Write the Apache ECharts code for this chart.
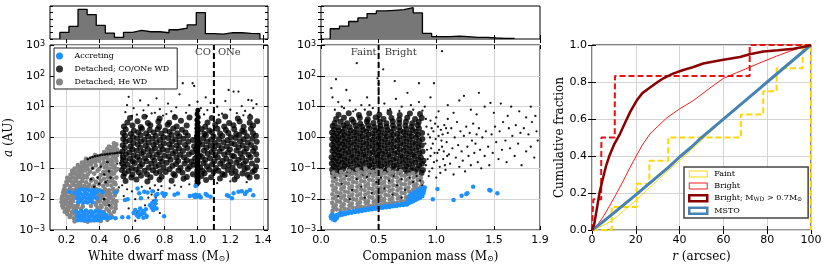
<!DOCTYPE html>
<html><head><meta charset="utf-8">
<script src="https://cdn.jsdelivr.net/npm/echarts@6/dist/echarts.min.js"></script>
<style>html,body{margin:0;padding:0;background:#fff}#c{width:831px;height:268px}</style>
</head><body><div id="c"></div>
<script>
// ---------------- DATA ----------------
const wdTicks = [0.2,0.4,0.6,0.8,1.0,1.2,1.4];

// histograms (relative heights, top panels)
const wdHistStart = 0.16, wdHistWidth = 0.0555;
const wdHistHeights = [0.20,0.38,0.90,0.74,0.41,0.18,0.05,0.20,0.26,0.22,0.22,0.19,0.28,0.33,0.43,0.80,0.16,0.15,0.19,0.19,0.17,0.16];
const compHistStart = 0.08, compHistWidth = 0.08;
const compHistHeights = [0.31,0.39,0.53,0.64,0.77,0.85,0.87,0.89,0.95,0.79,0.17,0.07,0.07,0.09,0.07,0.05,0.05,0.03,0.02,0.02];

// boundaries
const coOneBoundary = 1.1;
const faintBrightBoundary = 0.5;

// Panel 1: [white dwarf mass, log10 a]
const wdCOdense = [
[.561,-1.41],[.627,-1.36],[.694,-1.43],[.768,-1.37],[.842,-1.40],[.915,-1.34],[1.052,-1.38],[1.137,-1.33],[1.226,-1.36],[1.318,-1.30],
[.548,-1.26],[.596,-1.30],[.655,-1.24],[.713,-1.29],[.781,-1.27],[.862,-1.23],[.935,-1.28],[1.024,-1.25],[1.083,-1.29],[1.166,-1.22],[1.241,-1.26],[1.305,-1.21],[1.362,-1.27],
[.556,-1.16],[.603,-1.20],[.641,-1.13],[.692,-1.19],[.747,-1.15],[.806,-1.12],[.853,-1.18],[.908,-1.14],[.972,-1.19],[1.043,-1.16],[1.098,-1.12],[1.152,-1.18],[1.209,-1.15],[1.274,-1.17],[1.336,-1.12],
[.538,-1.05],[.579,-1.09],[.624,-1.04],[.676,-1.08],[.727,-1.06],[.771,-1.10],[.829,-1.03],[.884,-1.07],[.941,-1.02],[1.032,-1.09],[1.071,-1.04],[1.127,-1.08],[1.184,-1.05],[1.232,-1.10],[1.287,-1.03],[1.349,-1.06],
[.551,-0.95],[.598,-0.99],[.649,-0.93],[.701,-0.98],[.744,-0.94],[.793,-0.97],[.847,-0.92],[.896,-0.98],[.953,-0.94],[1.016,-0.97],[1.058,-0.93],[1.112,-0.99],[1.161,-0.94],[1.214,-0.97],[1.258,-0.92],[1.305,-0.98],[1.357,-0.95],
[.541,-0.85],[.573,-0.88],[.617,-0.83],[.662,-0.87],[.718,-0.84],[.764,-0.89],[.812,-0.82],[.869,-0.86],[.921,-0.84],[.976,-0.88],[1.037,-0.83],[1.089,-0.87],[1.138,-0.85],[1.189,-0.89],[1.236,-0.82],[1.281,-0.86],[1.332,-0.84],
[.559,-0.74],[.604,-0.78],[.646,-0.73],[.689,-0.77],[.737,-0.75],[.785,-0.79],[.836,-0.72],[.882,-0.76],[.934,-0.74],[.963,-0.78],[1.048,-0.73],[1.103,-0.77],[1.153,-0.75],[1.201,-0.79],[1.249,-0.72],[1.296,-0.76],[1.364,-0.74],
[.546,-0.65],[.588,-0.69],[.633,-0.63],[.679,-0.67],[.726,-0.64],[.772,-0.68],[.824,-0.62],[.871,-0.66],[.917,-0.64],[.985,-0.68],[1.027,-0.63],[1.076,-0.67],[1.124,-0.65],[1.176,-0.69],[1.223,-0.62],[1.272,-0.66],[1.323,-0.64],
[.563,-0.54],[.611,-0.58],[.658,-0.53],[.704,-0.57],[.752,-0.55],[.798,-0.59],[.849,-0.52],[.893,-0.56],[.947,-0.54],[1.013,-0.58],[1.062,-0.53],[1.109,-0.57],[1.163,-0.55],[1.212,-0.59],[1.262,-0.52],[1.311,-0.56],[1.358,-0.54],
[.542,-0.45],[.584,-0.49],[.629,-0.43],[.671,-0.47],[.721,-0.44],[.768,-0.48],[.817,-0.42],[.864,-0.46],[.911,-0.44],[.968,-0.48],[1.039,-0.43],[1.086,-0.47],[1.135,-0.45],[1.186,-0.49],[1.238,-0.42],[1.286,-0.46],[1.339,-0.44],
[.557,-0.34],[.602,-0.38],[.651,-0.33],[.697,-0.37],[.741,-0.35],[.789,-0.39],[.841,-0.32],[.887,-0.36],[.938,-0.34],[.991,-0.38],[1.054,-0.33],[1.101,-0.37],[1.149,-0.35],[1.198,-0.39],[1.251,-0.32],[1.299,-0.36],[1.351,-0.34],
[.544,-0.25],[.591,-0.29],[.636,-0.23],[.683,-0.27],[.731,-0.24],[.776,-0.28],[.827,-0.22],[.873,-0.26],[.924,-0.24],[.979,-0.28],[1.029,-0.23],[1.079,-0.27],[1.127,-0.25],[1.179,-0.29],[1.227,-0.22],[1.276,-0.26],[1.327,-0.24],
[.561,-0.14],[.608,-0.18],[.655,-0.13],[.702,-0.17],[.749,-0.15],[.795,-0.19],[.845,-0.12],[.891,-0.16],[.944,-0.14],[1.009,-0.18],[1.058,-0.13],[1.106,-0.17],[1.158,-0.15],[1.207,-0.19],[1.259,-0.12],[1.307,-0.16],[1.361,-0.14],
[.547,-0.05],[.587,-0.09],[.631,-0.03],[.676,-0.07],[.724,-0.04],[.771,-0.08],[.821,-0.02],[.866,-0.06],[.914,-0.04],[.972,-0.08],[1.034,-0.03],[1.083,-0.07],[1.131,-0.05],[1.183,-0.09],[1.232,-0.02],[1.281,-0.06],[1.334,-0.04],
[.558,0.06],[.606,0.02],[.653,0.07],[.699,0.03],[.746,0.05],[.792,0.01],[.842,0.08],[.889,0.04],[.941,0.06],[.996,0.02],[1.051,0.07],[1.098,0.03],[1.151,0.05],[1.203,0.01],[1.254,0.08],[1.302,0.04],[1.356,0.06],
[.545,0.15],[.593,0.11],[.638,0.17],[.686,0.13],[.733,0.16],[.779,0.12],[.829,0.18],[.876,0.14],[.927,0.16],[1.041,0.12],[1.088,0.17],[1.137,0.13],[1.188,0.15],[1.236,0.11],[1.286,0.18],[1.338,0.14],
[.562,0.26],[.611,0.22],[.661,0.28],[.708,0.24],[.757,0.27],[.803,0.23],[.852,0.29],[.905,0.25],[1.024,0.27],[1.072,0.23],[1.121,0.28],[1.173,0.24],[1.224,0.27],[1.273,0.22],[1.326,0.28],
[.551,0.36],[.603,0.39],[.654,0.34],[.712,0.40],[.766,0.35],[.818,0.41],[.873,0.36],[.934,0.39],[1.047,0.35],[1.108,0.41],[1.163,0.36],[1.219,0.40],[1.281,0.35],[1.339,0.39],
[.572,0.49],[.634,0.53],[.697,0.47],[.761,0.52],[.827,0.48],[.899,0.54],[1.061,0.49],[1.128,0.53],[1.193,0.47],[1.257,0.52],[1.318,0.48],[1.364,0.53],
[.588,0.63],[.676,0.67],[.769,0.62],[.862,0.66],[.951,0.65],[1.087,0.63],[1.169,0.68],[1.246,0.62],[1.321,0.66]
];
const wdCOstripe = [
[.996,-1.52],[1.004,-1.46],[.997,-1.41],[1.003,-1.35],[.996,-1.29],[1.004,-1.24],[.997,-1.18],[1.003,-1.12],[.996,-1.07],[1.004,-1.01],
[.997,-0.95],[1.003,-0.90],[.996,-0.84],[1.004,-0.78],[.997,-0.73],[1.003,-0.67],[.996,-0.61],[1.004,-0.56],[.997,-0.50],[1.003,-0.44],
[.996,-0.39],[1.004,-0.33],[.997,-0.27],[1.003,-0.22],[.996,-0.16],[1.004,-0.10],[.997,-0.05],[1.003,0.01],[.996,0.07],[1.004,0.12],
[.997,0.18],[1.003,0.24],[.996,0.30],[1.004,0.36],[.997,0.42],[1.003,0.49],[.996,0.57],[1.004,0.66],[.997,0.76],[1.002,0.88]
];
const wdCOsparse = [
[.56,0.82],[.58,1.32],[.61,0.95],[.63,0.74],[.65,1.2],[.67,0.88],[.70,1.05],[.72,0.78],[.75,1.27],[.77,0.92],[.79,0.71],[.82,1.1],[.84,0.85],[.87,0.98],[.89,1.4],
[.91,1.76],[.93,0.8],[.95,1.05],[.97,1.76],[.98,1.67],[1.0,1.16],[1.02,0.95],[1.04,0.75],[1.06,0.89],[1.08,1.12],[1.10,0.82],[1.12,1.0],[1.15,0.77],[1.17,1.18],
[1.19,1.54],[1.20,0.9],[1.22,1.49],[1.24,0.79],[1.25,1.49],[1.27,1.02],[1.29,0.86],[1.31,1.22],[1.32,0.74],[1.34,0.95],[1.36,1.08],[.60,0.7],[.74,0.8],[.86,0.72],
[1.13,0.73],[1.28,0.72],[.57,1.05],[.69,0.69],[.81,0.76],[1.05,1.3],[1.33,1.2],
[.50,-1.45],[.52,-1.62],[.54,-1.55],[.55,-1.9],[.57,-1.68],[.58,-2.3],[.60,-1.75],[.62,-2.0],[.63,-2.45],[.65,-1.82],[.66,-1.6],[.68,-2.2],[.70,-1.95],[.71,-1.65],
[.72,-1.85],[.73,-2.05],[.735,-1.75],[.74,-1.55],[.745,-1.95],[.75,-2.15],[.76,-1.7],[.78,-1.58],[.80,-1.9],[.83,-1.65],[.86,-1.55],[.9,-1.6],[.95,-1.52],[.58,-2.6],
[.62,-2.7],[.48,-1.2],[.5,-1.0],[.51,-0.85],[.49,-1.65],[.45,-1.4],[.47,-1.85],[.44,-1.1],[1.12,-1.48],[1.2,-1.42],[1.3,-1.45],[.77,-2.45],[.69,-2.6]
];
const wdCOridge = [
[.33,-0.70],[.345,-0.66],[.36,-0.63],[.375,-0.61],[.39,-0.59],[.405,-0.575],[.42,-0.56],[.435,-0.55],[.45,-0.54],[.465,-0.53],[.48,-0.52],[.495,-0.51],[.51,-0.5],
[.525,-0.49],[.535,-0.5],[.535,-0.58],[.537,-0.66],[.535,-0.74],[.53,-0.82],
[.36,-1.0],[.39,-1.3],[.41,-0.95],[.43,-1.2],[.45,-0.8],[.37,-1.6],[.40,-1.5],[.42,-1.75],[.44,-1.45],[.46,-1.1],[.47,-1.3],[.35,-1.35],[.43,-2.0],[.46,-2.2]
];
const wdHe = [
[.25,-2.72],[.29,-2.68],[.33,-2.73],[.37,-2.69],[.41,-2.71],[.45,-2.67],
[.22,-2.58],[.245,-2.62],[.27,-2.57],[.30,-2.63],[.34,-2.59],[.38,-2.61],[.42,-2.56],[.455,-2.62],[.48,-2.58],
[.205,-2.48],[.225,-2.52],[.25,-2.47],[.28,-2.53],[.31,-2.49],[.355,-2.51],[.40,-2.47],[.44,-2.52],[.47,-2.49],
[.19,-2.41],[.21,-2.37],[.235,-2.42],[.26,-2.38],[.29,-2.31],[.40,-2.36],[.43,-2.42],[.46,-2.38],[.49,-2.41],
[.18,-2.28],[.20,-2.32],[.22,-2.27],[.245,-2.31],[.265,-2.26],[.39,-2.29],[.415,-2.25],[.445,-2.31],[.475,-2.27],[.50,-2.3],
[.175,-2.21],[.19,-2.17],[.21,-2.22],[.23,-2.18],[.25,-2.23],[.27,-2.19],[.30,-2.24],[.35,-2.22],[.38,-2.18],[.41,-2.21],[.44,-2.17],[.47,-2.22],[.50,-2.19],
[.17,-2.09],[.185,-2.13],[.20,-2.08],[.22,-2.12],[.24,-2.07],[.385,-2.11],[.405,-2.06],[.43,-2.12],[.455,-2.08],[.48,-2.11],[.505,-2.07],
[.172,-1.98],[.188,-2.02],[.205,-1.97],[.225,-2.01],[.245,-1.96],[.39,-2.0],[.41,-1.96],[.435,-2.02],[.46,-1.98],[.485,-2.01],
[.175,-1.91],[.19,-1.87],[.21,-1.92],[.23,-1.88],[.25,-1.93],[.395,-1.89],[.42,-1.92],[.445,-1.87],[.47,-1.91],[.495,-1.88],
[.18,-1.78],[.195,-1.82],[.215,-1.77],[.235,-1.81],[.255,-1.76],[.39,-1.8],[.415,-1.83],[.44,-1.78],[.465,-1.81],[.49,-1.77],
[.185,-1.69],[.20,-1.72],[.22,-1.67],[.24,-1.71],[.26,-1.66],[.28,-1.62],[.30,-1.63],[.33,-1.61],[.36,-1.62],[.385,-1.68],[.41,-1.72],[.435,-1.67],[.46,-1.71],[.485,-1.68],[.51,-1.72],
[.19,-1.57],[.205,-1.53],[.225,-1.58],[.245,-1.54],[.265,-1.56],[.285,-1.52],[.31,-1.57],[.34,-1.53],[.37,-1.56],[.40,-1.52],[.425,-1.57],[.45,-1.53],[.475,-1.56],[.50,-1.52],
[.20,-1.44],[.215,-1.4],[.235,-1.45],[.255,-1.41],[.275,-1.46],[.295,-1.42],[.32,-1.45],[.35,-1.4],[.38,-1.44],[.41,-1.41],[.44,-1.46],[.465,-1.42],[.49,-1.45],
[.205,-1.31],[.22,-1.35],[.24,-1.3],[.26,-1.34],[.28,-1.29],[.30,-1.33],[.325,-1.3],[.36,-1.35],[.40,-1.31],[.43,-1.34],[.455,-1.29],[.48,-1.33],[.505,-1.3],
[.225,-1.21],[.245,-1.17],[.265,-1.22],[.285,-1.18],[.305,-1.23],[.33,-1.19],[.37,-1.17],[.41,-1.22],[.44,-1.18],[.465,-1.21],[.49,-1.17],
[.235,-1.09],[.255,-1.13],[.275,-1.08],[.295,-1.12],[.315,-1.07],[.345,-1.11],[.39,-1.08],[.425,-1.12],[.45,-1.07],[.475,-1.11],[.50,-1.08],
[.25,-1.01],[.27,-0.97],[.29,-1.02],[.31,-0.98],[.33,-1.03],[.36,-0.99],[.40,-1.02],[.435,-0.97],[.46,-1.01],[.485,-0.98],[.51,-1.02],
[.27,-0.89],[.29,-0.93],[.31,-0.88],[.33,-0.92],[.35,-0.87],[.38,-0.91],[.415,-0.88],[.445,-0.92],[.47,-0.87],[.495,-0.91],
[.295,-0.81],[.315,-0.77],[.335,-0.82],[.355,-0.78],[.375,-0.8],[.40,-0.76],[.43,-0.81],[.455,-0.77],[.48,-0.8],[.505,-0.76],
[.32,-0.69],[.34,-0.72],[.36,-0.67],[.38,-0.71],[.40,-0.66],[.425,-0.7],[.45,-0.67],[.475,-0.71],[.50,-0.68],
[.375,-0.57],[.395,-0.62],[.415,-0.58],[.435,-0.6],[.46,-0.56],[.485,-0.61],[.51,-0.57],
[.43,-0.47],[.45,-0.51],[.47,-0.46],[.495,-0.5],[.515,-0.47],
[.45,-0.37],[.47,-0.42],[.49,-0.38],[.51,-0.4],
[.46,-0.29],[.48,-0.32],[.50,-0.27],[.49,-0.19],[.505,-0.22]
];
const wdAccreting = [
[.265,-1.75],[.28,-1.7],[.295,-1.68],[.31,-1.72],[.325,-1.69],[.34,-1.71],[.355,-1.74],[.37,-1.7],[.27,-1.85],[.285,-1.82],[.30,-1.86],[.315,-1.81],[.33,-1.84],
[.345,-1.87],[.36,-1.83],[.375,-1.8],[.265,-1.97],[.28,-1.95],[.295,-1.99],[.31,-1.94],[.325,-1.98],[.34,-1.95],[.355,-1.99],[.37,-1.93],[.27,-2.1],[.285,-2.07],
[.30,-2.12],[.315,-2.08],[.33,-2.11],[.345,-2.06],[.36,-2.1],[.385,-1.76],[.25,-1.8],[.22,-1.76],[.40,-1.72],[.42,-1.78],[.385,-1.96],
[.26,-2.4],[.275,-2.45],[.29,-2.38],[.305,-2.43],[.32,-2.37],[.335,-2.42],[.35,-2.39],[.365,-2.44],[.38,-2.38],[.395,-2.42],[.41,-2.4],[.425,-2.46],
[.265,-2.55],[.28,-2.6],[.295,-2.53],[.31,-2.58],[.325,-2.52],[.34,-2.57],[.355,-2.54],[.37,-2.59],[.385,-2.53],[.40,-2.57],[.415,-2.55],[.43,-2.6],[.445,-2.52],
[.27,-2.68],[.29,-2.66],[.31,-2.7],[.33,-2.67],[.35,-2.69],[.37,-2.65],[.39,-2.68],[.41,-2.66],[.45,-2.62],[.47,-2.6],[.5,-2.62],
[.503,-1.78],[.558,-2.03],[.541,-2.59],[.578,-2.59],[.634,-1.65],[.644,-1.81],[.655,-1.97],[.675,-1.76],[.725,-1.74],[.745,-1.87],[.786,-1.81],[.806,-1.83],
[.574,-2.0],[.695,-1.78],[.756,-1.83],[.796,-1.89],
[.61,-2.45],[.62,-2.35],[.63,-2.52],[.64,-2.42],[.65,-2.3],[.655,-2.5],[.665,-2.38],[.675,-2.46],[.685,-2.33],[.69,-2.55],[.64,-2.58],[.67,-2.6],
[.71,-2.2],[.72,-2.28],[.725,-2.12],[.735,-2.25],[.74,-2.15],[.75,-2.3],[.745,-2.05],[.73,-2.35],[.796,-2.55],
[.953,-1.9],[.975,-1.88],[.985,-1.93],[.99,-1.86],[1.0,-1.91],[1.01,-1.87],[1.02,-1.94],[.988,-1.57],[1.05,-1.83],[1.08,-1.92],[1.18,-1.87],[1.21,-1.97],
[1.22,-1.81],[1.25,-1.76],[1.27,-1.74],[1.29,-1.83],[1.32,-1.7],[1.34,-1.87],[1.06,-1.88],[1.19,-1.9],[1.3,-1.76],[.88,-1.82],[.86,-1.86]
];

// Panel 2: [companion mass, log10 a]
const compCOdense = [
[.105,-1.16],[.168,-1.12],[.234,-1.18],[.297,-1.13],[.362,-1.17],[.428,-1.11],[.489,-1.16],[.553,-1.12],[.618,-1.18],[.682,-1.13],[.747,-1.16],[.815,-1.11],[.872,-1.15],
[.097,-1.04],[.141,-1.08],[.192,-1.02],[.247,-1.07],[.301,-1.03],[.352,-1.06],[.408,-1.01],[.457,-1.07],[.512,-1.03],[.566,-1.06],[.623,-1.02],[.674,-1.08],[.729,-1.03],[.781,-1.06],[.839,-1.01],[.884,-1.05],
[.112,-0.94],[.158,-0.98],[.207,-0.92],[.259,-0.97],[.313,-0.93],[.366,-0.96],[.419,-0.91],[.471,-0.97],[.524,-0.93],[.578,-0.96],[.632,-0.92],[.687,-0.98],[.741,-0.93],[.794,-0.96],[.851,-0.91],
[.094,-0.84],[.137,-0.88],[.183,-0.82],[.231,-0.87],[.284,-0.83],[.337,-0.86],[.389,-0.81],[.442,-0.87],[.496,-0.83],[.549,-0.86],[.603,-0.82],[.657,-0.88],[.711,-0.83],[.763,-0.86],[.818,-0.81],[.876,-0.85],
[.108,-0.74],[.154,-0.78],[.203,-0.72],[.255,-0.77],[.307,-0.73],[.361,-0.76],[.414,-0.71],[.466,-0.77],[.519,-0.73],[.573,-0.76],[.627,-0.72],[.681,-0.78],[.735,-0.73],[.789,-0.76],[.843,-0.71],[.889,-0.75],
[.092,-0.64],[.133,-0.68],[.179,-0.62],[.228,-0.67],[.279,-0.63],[.331,-0.66],[.384,-0.61],[.437,-0.67],[.491,-0.63],[.544,-0.66],[.598,-0.62],[.652,-0.68],[.706,-0.63],[.758,-0.66],[.812,-0.61],[.866,-0.65],
[.116,-0.54],[.161,-0.58],[.211,-0.52],[.262,-0.57],[.316,-0.53],[.369,-0.56],[.422,-0.51],[.476,-0.57],[.529,-0.53],[.583,-0.56],[.637,-0.52],[.691,-0.58],[.745,-0.53],[.798,-0.56],[.853,-0.51],
[.099,-0.44],[.143,-0.48],[.189,-0.42],[.238,-0.47],[.291,-0.43],[.343,-0.46],[.396,-0.41],[.449,-0.47],[.503,-0.43],[.556,-0.46],[.611,-0.42],[.664,-0.48],[.718,-0.43],[.771,-0.46],[.826,-0.41],[.881,-0.45],
[.111,-0.34],[.156,-0.38],[.205,-0.32],[.256,-0.37],[.309,-0.33],[.363,-0.36],[.416,-0.31],[.469,-0.37],[.522,-0.33],[.576,-0.36],[.629,-0.32],[.684,-0.38],[.738,-0.33],[.791,-0.36],[.846,-0.31],
[.095,-0.24],[.138,-0.28],[.185,-0.22],[.234,-0.27],[.286,-0.23],[.339,-0.26],[.392,-0.21],[.446,-0.27],[.499,-0.23],[.552,-0.26],[.606,-0.22],[.661,-0.28],[.714,-0.23],[.767,-0.26],[.821,-0.21],[.874,-0.25],
[.114,-0.14],[.159,-0.18],[.208,-0.12],[.259,-0.17],[.312,-0.13],[.366,-0.16],[.419,-0.11],[.472,-0.17],[.526,-0.13],[.579,-0.16],[.633,-0.12],[.688,-0.18],[.742,-0.13],[.796,-0.16],[.851,-0.11],
[.098,-0.04],[.141,-0.08],[.188,-0.02],[.236,-0.07],[.289,-0.03],[.341,-0.06],[.394,-0.01],[.448,-0.07],[.501,-0.03],[.555,-0.06],[.609,-0.02],[.663,-0.08],[.717,-0.03],[.769,-0.06],[.824,-0.01],[.879,-0.05],
[.109,0.06],[.153,0.02],[.202,0.08],[.253,0.03],[.306,0.07],[.359,0.04],[.412,0.09],[.465,0.03],[.518,0.07],[.572,0.04],[.626,0.08],[.679,0.02],[.733,0.07],[.786,0.04],[.841,0.09],
[.096,0.16],[.139,0.12],[.186,0.18],[.235,0.13],[.287,0.17],[.34,0.14],[.393,0.19],[.447,0.13],[.5,0.17],[.554,0.14],[.607,0.18],[.662,0.12],[.716,0.17],[.768,0.14],[.823,0.19],[.877,0.15],
[.113,0.26],[.158,0.22],[.207,0.28],[.258,0.23],[.311,0.27],[.365,0.24],[.418,0.29],[.471,0.23],[.525,0.27],[.578,0.24],[.632,0.28],[.687,0.22],[.741,0.27],[.795,0.24],[.85,0.29],
[.101,0.37],[.148,0.33],[.197,0.39],[.249,0.34],[.302,0.38],[.356,0.35],[.409,0.4],[.463,0.34],[.516,0.38],[.57,0.35],[.624,0.39],[.678,0.33],[.732,0.38],[.785,0.35],[.839,0.4],
[.118,0.47],[.171,0.51],[.226,0.46],[.283,0.5],[.341,0.45],[.398,0.52],[.455,0.47],[.511,0.5],[.567,0.46],[.623,0.52],[.679,0.47],[.737,0.51],[.792,0.46],[.848,0.5],
[.131,0.6],[.199,0.64],[.268,0.58],[.337,0.63],[.406,0.59],[.474,0.65],[.542,0.6],[.611,0.63],[.679,0.58],[.748,0.64],[.816,0.6],[.874,0.63],
[.152,0.74],[.241,0.79],[.329,0.73],[.418,0.78],[.506,0.74],[.594,0.8],[.683,0.73],[.771,0.78],[.859,0.76]
];
const compCOsparse = [
[.91,-0.9],[.92,-0.4],[.93,0.1],[.94,-1.1],[.95,-0.6],[.96,0.3],[.97,-0.2],[.98,-0.8],[.99,0.45],[1.0,-1.3],[1.01,-0.5],[1.02,0.05],[1.03,-0.95],[1.04,0.25],
[1.05,-0.3],[1.06,-0.7],[1.07,0.4],[1.08,-1.05],[1.09,-0.15],[1.1,0.15],[1.11,-0.55],[1.12,-0.85],[1.13,0.3],[1.14,-0.35],[1.15,-1.2],[1.16,0.0],[1.17,-0.65],
[1.18,0.5],[1.19,-0.25],[1.2,-0.95],[1.21,0.2],[1.22,-0.45],[1.23,-0.75],[1.24,0.05],[1.25,-1.1],[1.26,0.35],[1.27,-0.3],[1.28,-0.6],[1.29,0.15],[1.3,-0.9],
[1.31,-0.1],[1.32,0.45],[1.33,-0.5],[1.34,-0.2],[1.35,0.1],[1.36,-0.8],[1.37,0.3],[1.38,-0.4],[1.39,-1.0],[1.4,0.0],[1.42,-0.6],[1.43,0.2],[1.45,-0.3],[1.46,-0.9],
[1.48,0.1],[1.49,-0.5],[1.51,0.35],[1.52,-0.15],[1.54,-0.7],[1.55,0.2],[1.57,-0.4],[1.58,0.5],[1.6,-0.1],[1.61,-0.8],[1.63,0.3],[1.64,-0.35],[1.66,0.05],[1.68,-0.6],
[1.69,0.4],[1.71,-0.2],[1.73,0.15],[1.74,-0.9],[1.76,0.3],[1.78,-0.45],[1.8,0.1],[1.82,-0.3],[1.83,0.5],[1.85,-0.65],[1.87,0.2],[1.88,-0.1],
[.905,-0.2],[.915,0.35],[.925,-0.7],[.935,-1.25],[.945,0.0],[.955,-0.35],[.965,-1.0],[.975,0.2],[.985,-0.5],[.995,-0.05],[1.005,-0.75],[1.015,0.35],[1.025,-0.4],
[1.035,-1.15],[1.045,-0.1],[1.055,0.1],[1.065,-0.45],[1.075,-0.9],[1.085,0.3],[1.095,-0.6],[.91,0.6],[.95,0.55],[1.0,0.65],[1.1,0.6],
[.31,2.41],[.54,2.21],[1.05,2.8],[.13,1.89],[.09,1.6],[.49,1.92],[.64,1.83],[.85,1.76],[.98,1.76],[.22,1.54],[1.24,1.35],[1.37,1.45],[1.47,1.12],[1.65,1.0],
[1.82,1.0],[.1,1.3],[.15,1.15],[.2,0.95],[.25,1.2],[.3,0.9],[.35,1.05],[.4,1.3],[.45,0.95],[.5,1.6],[.55,1.1],[.6,0.92],[.65,1.25],[.7,1.0],[.75,1.45],[.8,0.9],
[.85,1.15],[.9,1.0],[.95,1.3],[1.02,0.85],[1.1,1.05],[1.15,0.8],[1.2,1.2],[1.3,0.9],[1.35,0.75],[1.42,1.0],[1.5,0.8],[1.56,1.1],[1.62,0.7],[1.72,0.85],[1.78,0.65],
[1.86,0.7],[.12,0.9],[.18,1.0],[.28,0.85],[.38,0.9],[.42,1.05],[.58,0.88],[.68,0.86],[.78,1.05],[.88,0.87],[.5,1.3],[.5,1.75]
];
const compCOmix = [
[.12,-1.3],[.18,-1.5],[.22,-1.25],[.27,-1.7],[.31,-1.35],[.35,-1.6],[.4,-1.28],[.44,-1.8],[.48,-1.45],[.52,-1.3],[.55,-1.65],[.59,-1.4],[.63,-1.25],[.66,-1.55],
[.7,-1.35],[.73,-1.7],[.77,-1.3],[.8,-1.45],[.83,-1.25],[.86,-1.4],[.88,-1.55],[.15,-1.9],[.25,-2.0],[.38,-1.95],[.5,-1.9],[.62,-1.85],[.7,-1.95]
];
const compHe = [
[.10,-2.38],[.108,-2.25],[.097,-2.12],[.106,-1.98],[.099,-1.84],[.107,-1.70],[.098,-1.56],[.105,-1.42],[.1,-1.28],[.108,-1.14],
[.135,-2.33],[.128,-2.19],[.139,-2.06],[.131,-1.92],[.137,-1.78],[.129,-1.64],[.138,-1.5],[.132,-1.36],[.136,-1.22],
[.17,-2.36],[.177,-2.23],[.166,-2.09],[.174,-1.95],[.168,-1.81],[.176,-1.67],[.167,-1.53],[.173,-1.39],[.169,-1.25],[.175,-1.11],
[.205,-2.31],[.198,-2.17],[.209,-2.03],[.201,-1.89],[.207,-1.75],[.199,-1.61],[.208,-1.47],[.202,-1.33],[.206,-1.19],
[.24,-2.33],[.247,-2.2],[.236,-2.06],[.244,-1.92],[.238,-1.78],[.246,-1.64],[.237,-1.5],[.243,-1.36],[.239,-1.22],[.245,-1.08],
[.275,-2.27],[.268,-2.14],[.279,-2.0],[.271,-1.86],[.277,-1.72],[.269,-1.58],[.278,-1.44],[.272,-1.3],[.276,-1.16],
[.31,-2.29],[.317,-2.16],[.306,-2.02],[.314,-1.88],[.308,-1.74],[.316,-1.6],[.307,-1.46],[.313,-1.32],[.309,-1.18],[.315,-1.04],
[.345,-2.24],[.338,-2.1],[.349,-1.97],[.341,-1.83],[.347,-1.69],[.339,-1.55],[.348,-1.41],[.342,-1.27],[.346,-1.13],
[.38,-2.26],[.387,-2.12],[.376,-1.99],[.384,-1.85],[.378,-1.71],[.386,-1.57],[.377,-1.43],[.383,-1.29],[.379,-1.15],[.385,-1.01],
[.415,-2.2],[.408,-2.07],[.419,-1.93],[.411,-1.79],[.417,-1.65],[.409,-1.51],[.418,-1.37],[.412,-1.23],[.416,-1.09],
[.45,-2.22],[.457,-2.09],[.446,-1.95],[.454,-1.81],[.448,-1.67],[.456,-1.53],[.447,-1.39],[.453,-1.25],[.449,-1.11],
[.485,-2.17],[.478,-2.04],[.489,-1.9],[.481,-1.76],[.487,-1.62],[.479,-1.48],[.488,-1.34],[.482,-1.2],[.486,-1.06],
[.52,-2.19],[.527,-2.05],[.516,-1.92],[.524,-1.78],[.518,-1.64],[.526,-1.5],[.517,-1.36],[.523,-1.22],[.519,-1.08],
[.555,-2.13],[.548,-2.0],[.559,-1.86],[.551,-1.72],[.557,-1.58],[.549,-1.44],[.558,-1.3],[.552,-1.16],
[.59,-2.15],[.597,-2.02],[.586,-1.88],[.594,-1.74],[.588,-1.6],[.596,-1.46],[.587,-1.32],[.593,-1.18],[.589,-1.04],
[.625,-2.1],[.618,-1.96],[.629,-1.83],[.621,-1.69],[.627,-1.55],[.619,-1.41],[.628,-1.27],[.622,-1.13],
[.66,-2.12],[.667,-1.98],[.656,-1.85],[.664,-1.71],[.658,-1.57],[.666,-1.43],[.657,-1.29],[.663,-1.15],
[.695,-2.06],[.688,-1.93],[.699,-1.79],[.691,-1.65],[.697,-1.51],[.689,-1.37],[.698,-1.23],[.692,-1.09],
[.73,-2.07],[.737,-1.94],[.726,-1.8],[.734,-1.66],[.728,-1.52],[.736,-1.38],[.727,-1.24],
[.765,-1.75],[.758,-1.62],[.769,-1.48],[.761,-1.34],[.767,-1.2],
[.80,-1.7],[.807,-1.57],[.796,-1.43],[.804,-1.29],[.798,-1.15],
[.835,-1.65],[.828,-1.52],[.839,-1.38],[.831,-1.24],
[.87,-1.58],[.877,-1.45],[.866,-1.31]
];
const compAccreting = [
[.085,-2.55],[.09,-2.62],[.095,-2.5],[.1,-2.58],[.105,-2.66],[.11,-2.53],[.115,-2.61],[.12,-2.68],[.125,-2.55],[.13,-2.63],[.135,-2.52],[.14,-2.6],
[.15,-2.52],[.16,-2.47],[.17,-2.51],[.18,-2.46],[.19,-2.5],[.2,-2.45],[.21,-2.48],[.22,-2.43],[.235,-2.46],[.25,-2.41],[.265,-2.44],[.28,-2.39],[.295,-2.42],
[.31,-2.37],[.325,-2.4],[.34,-2.35],[.355,-2.38],[.37,-2.34],[.385,-2.36],[.4,-2.32],[.415,-2.34],[.43,-2.3],[.445,-2.33],[.46,-2.28],[.475,-2.31],[.49,-2.27],
[.505,-2.29],[.52,-2.25],[.535,-2.28],[.55,-2.24],[.565,-2.26],[.58,-2.22],[.595,-2.25],[.61,-2.21],[.625,-2.23],[.64,-2.19],[.655,-2.22],[.67,-2.18],[.685,-2.2],
[.7,-2.16],[.715,-2.19],[.73,-2.15],[.745,-2.17],
[.755,-2.1],[.76,-2.0],[.765,-1.9],[.77,-2.06],[.775,-1.95],[.78,-1.85],[.785,-2.02],[.79,-1.92],[.795,-1.82],[.8,-1.98],[.805,-1.88],[.81,-1.78],[.815,-1.95],
[.82,-1.85],[.825,-1.76],[.83,-1.92],[.835,-1.82],[.84,-1.72],[.845,-1.89],[.85,-1.79],[.855,-1.69],[.86,-1.86],[.865,-1.76],[.87,-1.66],[.875,-1.83],[.88,-1.73],
[.885,-1.64],[.89,-1.8],[.895,-1.7],[.9,-1.62],[.76,-2.13],[.78,-2.1],[.8,-2.07],[.82,-2.03],[.84,-1.99],[.86,-1.95],[.88,-1.9],
[.97,-2.0],[1.01,-1.67],[1.15,-2.03],[1.22,-1.89],[1.26,-1.83],[1.27,-1.81],[1.32,-1.6],[1.46,-1.7],[1.47,-1.72],[1.53,-1.81]
];

// Panel 3: cumulative fraction vs r (arcsec)
const mstoCum = [[0,0],[5,0.045],[10,0.093],[15,0.142],[20,0.19],[25,0.24],[30,0.29],[35,0.34],[40,0.395],[45,0.445],[50,0.5],[55,0.55],[60,0.6],[65,0.65],[70,0.7],[75,0.75],[80,0.8],[85,0.85],[90,0.9],[95,0.95],[100,1]];
const faintCum = [[0,0],[5,0.025],[9,0.05],[15,0.11],[20,0.16],[25,0.215],[30,0.27],[35,0.325],[40,0.375],[45,0.43],[50,0.485],[55,0.54],[60,0.595],[65,0.645],[70,0.7],[75,0.75],[80,0.8],[85,0.85],[90,0.9],[95,0.95],[100,1]];
const brightCum = [[0,0],[2,0.02],[5,0.07],[8,0.13],[11.3,0.2],[14,0.26],[17,0.33],[20.2,0.4],[23,0.46],[26.5,0.52],[30,0.56],[34,0.605],[40,0.655],[46.3,0.7],[53,0.76],[60,0.82],[66,0.85],[72,0.88],[78,0.91],[84.3,0.94],[90,0.965],[95,0.985],[100,1]];
const brightMassiveCum = [[0,0],[1,0.03],[2,0.1],[3.4,0.2],[5,0.28],[6.5,0.35],[7.9,0.4],[10,0.46],[12.8,0.52],[15.1,0.58],[17.5,0.64],[20.4,0.7],[23,0.74],[26.5,0.77],[30,0.8],[32.6,0.82],[37,0.845],[41.7,0.865],[46,0.88],[50.8,0.9],[55,0.91],[60,0.92],[67.6,0.935],[72,0.95],[78.2,0.965],[85,0.972],[92,0.98],[97,0.99],[100,1]];
const faintSampleR = [9,20.4,26.2,34.8,68,78.2,84.3,96.2];
const faintSampleF = [0.125,0.25,0.375,0.5,0.625,0.75,0.875,1];
const brightSampleR = [0.6,4.2,4.3,10.4,10.5,72];
const brightSampleF = [0.167,0.333,0.5,0.667,0.833,1];

// ---------------- CHART ----------------
const SANS = 'DejaVu Sans', SERIF = 'DejaVu Serif';
const toA = pts => pts.map(p => [p[0], Math.pow(10, p[1])]);
function histData(start, width, h) {
  const d = [[start, 0]];
  h.forEach((v, i) => d.push([start + i * width, v]));
  const end = start + h.length * width;
  d.push([end, h[h.length - 1]]); d.push([end, 0]);
  return d;
}
function stepData(R, F, drop) {
  const d = [[0, 0]];
  R.forEach((r, i) => d.push([r, F[i]]));
  d.push([100, 1]);
  if (drop) d.push([100, 0]);
  return d;
}
const tick = (extra) => Object.assign({show:true, inside:true, length:4, lineStyle:{color:'#000', width:1}}, extra || {});
const gridLine = {show:true, lineStyle:{color:'#d4d4d4', width:1}};
const tickLabel = (extra) => Object.assign({fontFamily:SANS, fontSize:11, color:'#000', margin:5}, extra || {});
const expRich = {b:{fontFamily:SANS, fontSize:11, color:'#000'}, s:{fontFamily:SANS, fontSize:8, color:'#000', verticalAlign:'top'}};
const expLabel = v => '{b|10}{s|' + String(Math.round(Math.log10(v))).replace('-', '\u2212') + '}';
const nameStyle = {fontFamily:SERIF, fontSize:12, color:'#000',
  rich:{sub:{fontFamily:SERIF, fontSize:8, color:'#000', verticalAlign:'bottom'},
        i:{fontFamily:SERIF, fontSize:12, color:'#000', fontStyle:'italic'},
        n:{fontFamily:SERIF, fontSize:12, color:'#000'}}};
const noLine = {show:false};

const xAxes = [
  {gridIndex:0, type:'value', min:0.1, max:1.43, axisLine:noLine, axisTick:tick({customValues:wdTicks}),
   axisLabel:tickLabel({customValues:wdTicks, formatter:v=>v.toFixed(1)}), splitLine:gridLine,
   name:'{n|White dwarf mass (M}{sub|\u2299}{n|)}', nameLocation:'middle', nameGap:17, nameTextStyle:nameStyle},
  {gridIndex:0, type:'value', position:'top', min:0.1, max:1.43, axisLine:noLine, axisTick:tick({customValues:wdTicks}), axisLabel:{show:false}, splitLine:{show:false}},
  {gridIndex:1, type:'value', min:0.1, max:1.43, axisLine:noLine, axisTick:tick({customValues:wdTicks}), axisLabel:{show:false}, splitLine:{show:false}},
  {gridIndex:1, type:'value', position:'top', min:0.1, max:1.43, axisLine:noLine, axisTick:tick({customValues:wdTicks}), axisLabel:{show:false}, splitLine:{show:false}},
  {gridIndex:2, type:'value', min:0, max:1.9, interval:0.5, axisLine:noLine, axisTick:tick(),
   axisLabel:tickLabel({formatter:v=>v.toFixed(1)}), splitLine:gridLine,
   name:'{n|Companion mass (M}{sub|\u2299}{n|)}', nameLocation:'middle', nameGap:17, nameTextStyle:nameStyle},
  {gridIndex:2, type:'value', position:'top', min:0, max:1.9, interval:0.5, axisLine:noLine, axisTick:tick(), axisLabel:{show:false}, splitLine:{show:false}},
  {gridIndex:3, type:'value', min:0, max:1.9, interval:0.5, axisLine:noLine, axisTick:tick(), axisLabel:{show:false}, splitLine:{show:false}},
  {gridIndex:3, type:'value', position:'top', min:0, max:1.9, interval:0.5, axisLine:noLine, axisTick:tick(), axisLabel:{show:false}, splitLine:{show:false}},
  {gridIndex:4, type:'value', min:0, max:100, interval:20, axisLine:noLine, axisTick:tick(),
   axisLabel:tickLabel(), splitLine:gridLine,
   name:'{i|r}{n| (arcsec)}', nameLocation:'middle', nameGap:17, nameTextStyle:nameStyle},
  {gridIndex:4, type:'value', position:'top', min:0, max:100, interval:20, axisLine:noLine, axisTick:tick(), axisLabel:{show:false}, splitLine:{show:false}}
];
const yAxes = [
  {gridIndex:0, type:'log', logBase:10, min:0.001, max:1000, axisLine:noLine, axisTick:tick(),
   axisLabel:tickLabel({formatter:expLabel, rich:expRich}), splitLine:gridLine,
   name:'{i|a}{n| (AU)}', nameLocation:'middle', nameGap:31, nameRotate:90, nameTextStyle:nameStyle},
  {gridIndex:0, type:'log', logBase:10, min:0.001, max:1000, position:'right', axisLine:noLine, axisTick:tick(), axisLabel:{show:false}, splitLine:{show:false}},
  {gridIndex:1, type:'value', min:0, max:1, interval:0.2, axisLine:noLine, axisTick:tick({length:3}), axisLabel:{show:false}, splitLine:{show:false}},
  {gridIndex:1, type:'value', min:0, max:1, interval:0.2, position:'right', axisLine:noLine, axisTick:tick({length:3}), axisLabel:{show:false}, splitLine:{show:false}},
  {gridIndex:2, type:'log', logBase:10, min:0.001, max:1000, axisLine:noLine, axisTick:tick(),
   axisLabel:tickLabel({formatter:expLabel, rich:expRich}), splitLine:gridLine},
  {gridIndex:2, type:'log', logBase:10, min:0.001, max:1000, position:'right', axisLine:noLine, axisTick:tick(), axisLabel:{show:false}, splitLine:{show:false}},
  {gridIndex:3, type:'value', min:0, max:1, interval:0.2, axisLine:noLine, axisTick:tick({length:3}), axisLabel:{show:false}, splitLine:{show:false}},
  {gridIndex:3, type:'value', min:0, max:1, interval:0.2, position:'right', axisLine:noLine, axisTick:tick({length:3}), axisLabel:{show:false}, splitLine:{show:false}},
  {gridIndex:4, type:'value', min:0, max:1, interval:0.2, axisLine:noLine, axisTick:tick(),
   axisLabel:tickLabel({formatter:v=>v.toFixed(1)}), splitLine:gridLine,
   name:'{n|Cumulative fraction}', nameLocation:'middle', nameGap:23, nameRotate:90, nameTextStyle:nameStyle},
  {gridIndex:4, type:'value', min:0, max:1, interval:0.2, position:'right', axisLine:noLine, axisTick:tick(), axisLabel:{show:false}, splitLine:{show:false}}
];

const BLUE = '#1E90FF', GREY = '#858585', BLACK = '#000';
const NA = 'Accreting', NC = 'Detached; CO/ONe WD', NH = 'Detached; He WD';
function sc(name, pts, ax, size, color, op) {
  return {type:'scatter', name, xAxisIndex:ax, yAxisIndex:ax, data:toA(pts), symbol:'circle', symbolSize:size,
          itemStyle:{color, opacity:op || 1}, silent:true, animation:false};
}
function vline(name, x, ax) {
  return {type:'line', name, xAxisIndex:ax, yAxisIndex:ax, data:[[x,0.001],[x,1000]], symbol:'none', silent:true,
          lineStyle:{color:'#000', width:2, type:[6,3]}, z:3};
}
function tag(text, x, ax, pos, dist) {
  return {type:'scatter', name:'tag_'+text, xAxisIndex:ax, yAxisIndex:ax, data:[[x, 560]], symbolSize:0, silent:true, z:4,
          label:{show:true, formatter:text, position:pos, distance:dist, fontFamily:SERIF, fontSize:10, color:'#000'}};
}
function hist(start, width, h, ax) {
  return {type:'line', name:'hist'+ax, xAxisIndex:ax, yAxisIndex:ax, data:histData(start, width, h), step:'end', symbol:'none', silent:true,
          lineStyle:{color:'#000', width:1.3}, areaStyle:{color:'#777', opacity:1}};
}
function cum(name, data, color, width, dashed, step) {
  return {type:'line', name, xAxisIndex:8, yAxisIndex:8, data, symbol:'none', silent:true, step: step ? 'end' : false,
          lineStyle:{color, width, type: dashed ? [6,3] : 'solid'}, itemStyle:{color}};
}

const series = [
  hist(wdHistStart, wdHistWidth, wdHistHeights, 2),
  hist(compHistStart, compHistWidth, compHistHeights, 6),
  // panel 1
  sc(NC, wdCOdense, 0, 6, BLACK, 0.8),
  sc(NC, wdCOstripe, 0, 5, BLACK, 1),
  sc(NC, wdCOsparse, 0, 2.3, BLACK, 0.9),
  sc(NH, wdHe, 0, 4.6, GREY, 1),
  sc(NC, wdCOridge, 0, 2.6, BLACK, 0.9),
  sc(NA, wdAccreting, 0, 4.5, BLUE, 1),
  vline('coBoundary', coOneBoundary, 0),
  tag('CO', coOneBoundary, 0, 'left', 3),
  tag('ONe', coOneBoundary, 0, 'right', 4),
  // panel 2
  sc(NC, compCOdense, 4, 6, BLACK, 0.8),
  sc(NC, compCOsparse, 4, 2.3, BLACK, 0.9),
  sc(NH, compHe, 4, 4.6, GREY, 1),
  sc(NC, compCOmix, 4, 2.3, BLACK, 0.9),
  sc(NA, compAccreting, 4, 4.5, BLUE, 1),
  vline('fbBoundary', faintBrightBoundary, 4),
  tag('Faint', faintBrightBoundary, 4, 'left', 2),
  tag('Bright', faintBrightBoundary, 4, 'right', 6),
  // panel 3
  cum('Faint', faintCum, '#FFD700', 1, false, false),
  cum('Faint', stepData(faintSampleR, faintSampleF, true), '#FFD700', 2, true, true),
  cum('Bright', brightCum, '#FF1a1a', 1, false, false),
  cum('Bright', stepData(brightSampleR, brightSampleF, false), '#E81010', 2, true, true),
  cum('MSTO', mstoCum, '#4682B4', 3, false, false),
  cum('Bright07', brightMassiveCum, '#8B0000', 2.5, false, false)
];

const chart = echarts.init(document.getElementById('c'), null, {renderer:'canvas'});
chart.setOption({
  animation:false,
  backgroundColor:'#fff',
  grid:[
    {left:50, top:45, width:218, height:185, show:true, borderColor:'#000', borderWidth:1, backgroundColor:'transparent'},
    {left:50, top:6, width:218, height:33, show:true, borderColor:'#000', borderWidth:1, backgroundColor:'transparent'},
    {left:321, top:45, width:219, height:185, show:true, borderColor:'#000', borderWidth:1, backgroundColor:'transparent'},
    {left:321, top:6, width:219, height:33, show:true, borderColor:'#000', borderWidth:1, backgroundColor:'transparent'},
    {left:592, top:45, width:219, height:186, show:true, borderColor:'#000', borderWidth:1, backgroundColor:'transparent'}
  ],
  xAxis:xAxes, yAxis:yAxes,
  legend:[
    {left:54, top:48, orient:'vertical', data:[NA, NC, NH], icon:'circle', itemWidth:20, itemHeight:7, itemGap:5,
     padding:[4,8,3,2], backgroundColor:'#fff', borderColor:'#222', borderWidth:1, selectedMode:false,
     textStyle:{fontFamily:SERIF, fontSize:8, color:'#000'}},
    {left:684, top:167, orient:'vertical', icon:'rect', itemWidth:18, itemHeight:6, itemGap:4,
     padding:[3,6,3,4], backgroundColor:'#fff', borderColor:'#444', borderWidth:1.5, selectedMode:false,
     textStyle:{fontFamily:SERIF, fontSize:8, color:'#000', padding:[0,0,0,2],
       rich:{sub:{fontFamily:SERIF, fontSize:6, color:'#000', verticalAlign:'bottom'}, n:{fontFamily:SERIF, fontSize:8, color:'#000'}}},
     formatter: n => n === 'Bright07' ? '{n|Bright; M}{sub|WD}{n| > 0.7M}{sub|\u2299}' : n,
     data:[
       {name:'Faint', itemStyle:{color:'rgba(0,0,0,0)', borderColor:'#FFD700', borderWidth:1}},
       {name:'Bright', itemStyle:{color:'rgba(0,0,0,0)', borderColor:'#FF1a1a', borderWidth:1}},
       {name:'Bright07', itemStyle:{color:'rgba(0,0,0,0)', borderColor:'#8B0000', borderWidth:2.5}},
       {name:'MSTO', itemStyle:{color:'rgba(0,0,0,0)', borderColor:'#4682B4', borderWidth:2.5}}
     ]}
  ],
  series
});
</script></body></html>
